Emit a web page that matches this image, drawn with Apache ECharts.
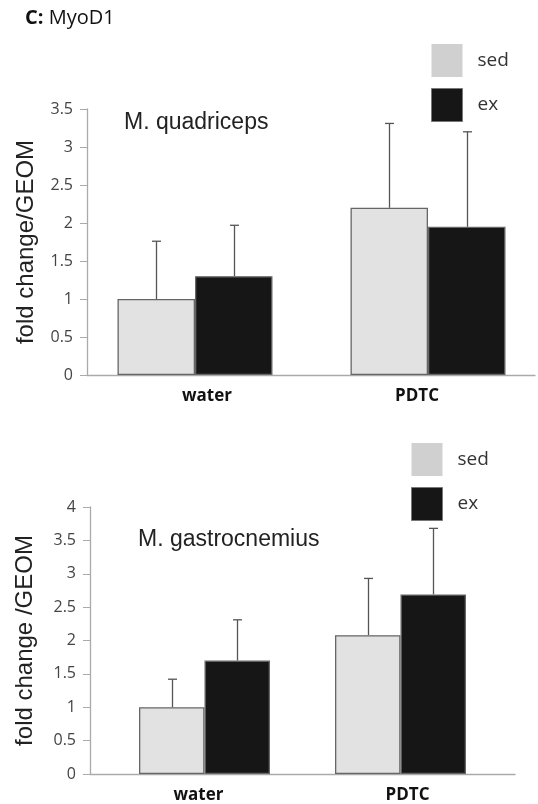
<!DOCTYPE html>
<html>
<head>
<meta charset="utf-8">
<script src="https://cdn.jsdelivr.net/npm/echarts@6/dist/echarts.min.js"></script>
<style>
  html, body { margin: 0; padding: 0; background: #fff; }
  #main { width: 538px; height: 804px; }
</style>
</head>
<body>
<div id="main"></div>
<script>
// data
var categories = ["water", "PDTC"];
var quadSed = [1.0, 2.2];
var quadSedErr = [0.76, 1.11];
var quadEx = [1.3, 1.95];
var quadExErr = [0.67, 1.25];
var gastSed = [1.0, 2.08];
var gastSedErr = [0.42, 0.85];
var gastEx = [1.7, 2.69];
var gastExErr = [0.61, 0.99];

var sedColor = "#e2e2e2";
var exColor = "#161616";
var font = "'Liberation Sans', Arial, sans-serif";
var font2 = "'Open Sans', 'Noto Sans', sans-serif";

// bar width in px for each panel
var barW = [77.5, 65.5];

function pairs(vals) {
  return vals.map(function (v, i) { return [i, v]; });
}

// error bar above each bar; side -1 = left bar, 1 = right bar
function errSeries(idx, means, errs, side) {
  return {
    type: "custom",
    xAxisIndex: idx,
    yAxisIndex: idx,
    z: 1,
    silent: true,
    data: means.map(function (m, i) { return [i, m, m + errs[i]]; }),
    renderItem: function (params, api) {
      var base = api.coord([api.value(0), api.value(1)]);
      var top = api.coord([api.value(0), api.value(2)]);
      var x = Math.round(base[0] + side * barW[idx] / 2) + 0.5;
      var style = { stroke: "#555", lineWidth: 1.3 };
      return {
        type: "group",
        children: [
          { type: "line", shape: { x1: x, y1: base[1], x2: x, y2: top[1] }, style: style },
          { type: "line", shape: { x1: x - 4.5, y1: top[1], x2: x + 4.5, y2: top[1] }, style: style }
        ]
      };
    }
  };
}

function barSeries(idx, name, vals, color) {
  return {
    type: "bar",
    name: name,
    xAxisIndex: idx,
    yAxisIndex: idx,
    data: pairs(vals),
    barWidth: barW[idx],
    barGap: "0%",
    z: 2,
    itemStyle: { color: color, borderColor: "#666", borderWidth: 1.3 }
  };
}

function legendOf(left, top) {
  return {
    left: left, top: top, orient: "vertical", icon: "rect",
    itemWidth: 31, itemHeight: 33, itemGap: 11, selectedMode: false,
    textStyle: { fontFamily: font2, fontSize: 19, color: "#333", padding: [0, 0, 0, 10] },
    data: [
      { name: "sed", itemStyle: { color: "#d0d0d0", borderWidth: 0 } },
      { name: "ex", itemStyle: { color: exColor, borderColor: "#777", borderWidth: 1 } }
    ]
  };
}

function labelRich(shifts) {
  var base = { fontFamily: font2, fontWeight: "bold", fontSize: 17, color: "#111" };
  var r = {};
  shifts.forEach(function (s, i) {
    r["s" + i] = Object.assign({ padding: s > 0 ? [0, 0, 0, 2 * s] : [0, -2 * s, 0, 0] }, base);
  });
  return r;
}

var chart = echarts.init(document.getElementById("main"));
var option = {
  animation: false,
  grid: [
    { left: 87, top: 109, width: 448, height: 266 },
    { left: 90, top: 507, width: 425, height: 267 }
  ],
  legend: [legendOf(426, 39), legendOf(406, 438)],
  xAxis: [
    { min: (87 - 195) / 233, max: (535 - 195) / 233, shifts: [12, -11] },
    { min: (90 - 204.5) / 196, max: (515 - 204.5) / 196, shifts: [-6, 7] }
  ].map(function (a, i) {
    return {
      type: "value",
      gridIndex: i,
      min: a.min,
      max: a.max,
      splitLine: { show: false },
      axisLine: { show: true, onZero: false, lineStyle: { color: "#aaa", width: 1.3 } },
      axisTick: { show: false },
      axisLabel: {
        customValues: [0, 1],
        margin: 13,
        formatter: function (v) { return "{s" + v + "|" + categories[v] + "}"; },
        rich: labelRich(a.shifts)
      }
    };
  }),
  yAxis: [
    { max: 3.5, name: "fold change/GEOM", gap: 49 },
    { max: 4, name: "fold change /GEOM", gap: 53 }
  ].map(function (a, i) {
    return {
      type: "value",
      gridIndex: i,
      min: 0,
      max: a.max,
      interval: 0.5,
      name: a.name,
      nameLocation: "middle",
      nameGap: a.gap,
      nameTextStyle: { fontFamily: font, fontSize: 24, color: "#222" },
      splitLine: { show: false },
      axisLine: { show: true, onZero: false, lineStyle: { color: "#aaa", width: 1.3 } },
      axisTick: { show: true, length: 7, lineStyle: { color: "#aaa" } },
      axisLabel: { fontFamily: font2, fontSize: 16, color: "#444", margin: 14 }
    };
  }),
  graphic: [
    {
      type: "text", left: 25, top: 8,
      style: {
        text: "{b|C:} MyoD1",
        font: "20px " + font2,
        fill: "#111",
        rich: { b: { fontWeight: "bold", fontSize: 20, fontFamily: font2 } }
      }
    },
    { type: "text", left: 124, top: 111, style: { text: "M. quadriceps", font: "23px " + font, fill: "#222" } },
    { type: "text", left: 138, top: 528, style: { text: "M. gastrocnemius", font: "23px " + font, fill: "#222" } }
  ],
  series: [
    barSeries(0, "sed", quadSed, sedColor),
    barSeries(0, "ex", quadEx, exColor),
    errSeries(0, quadSed, quadSedErr, -1),
    errSeries(0, quadEx, quadExErr, 1),
    barSeries(1, "sed", gastSed, sedColor),
    barSeries(1, "ex", gastEx, exColor),
    errSeries(1, gastSed, gastSedErr, -1),
    errSeries(1, gastEx, gastExErr, 1)
  ]
};
chart.setOption(option);
</script>
</body>
</html>
